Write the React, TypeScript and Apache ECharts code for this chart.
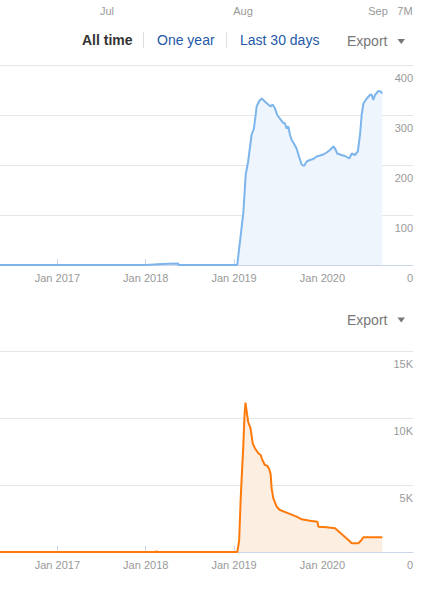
import { useEffect, useRef } from "react";
import * as echarts from "echarts";

const FONT = "'Liberation Sans', Arial, sans-serif";

// labels of the (cut off) navigator above
const navLabels = ["Jul", "Aug", "Sep", "7M"];
const navLabelX = [107, 243, 378, 405];

const rangeButtons = ["All time", "One year", "Last 30 days"];
const exportLabel = "Export";

const xTickDates = ["2017-01-01", "2018-01-01", "2019-01-01", "2020-01-01"];
const xMin = "2016-05-09";
const xMax = "2021-01-09";

const topYMax = 400;
const topYInterval = 100;
const bottomYMax = 15000;
const bottomYInterval = 5000;

const blueDates = [
  "2016-05-09", "2018-01-03", "2018-01-04", "2018-03-07", "2018-03-08", "2018-05-15", "2018-05-16",
  "2019-01-14", "2019-02-08", "2019-02-18", "2019-02-28", "2019-03-14", "2019-03-24", "2019-03-31",
  "2019-04-04", "2019-04-15", "2019-04-25", "2019-05-08", "2019-05-22", "2019-06-01", "2019-06-09",
  "2019-06-19", "2019-06-28", "2019-07-09", "2019-07-21", "2019-07-30", "2019-08-06", "2019-08-13",
  "2019-08-20", "2019-08-27", "2019-09-05", "2019-09-16", "2019-09-26", "2019-10-07", "2019-10-17",
  "2019-10-28", "2019-11-10", "2019-11-24", "2019-12-08", "2019-12-22", "2020-01-04", "2020-01-18",
  "2020-02-01", "2020-02-15", "2020-02-22", "2020-03-02", "2020-03-20", "2020-04-03", "2020-04-21",
  "2020-05-01", "2020-05-14", "2020-05-26", "2020-06-04", "2020-06-11", "2020-06-18", "2020-07-02",
  "2020-07-15", "2020-07-22", "2020-07-29", "2020-08-05", "2020-08-19", "2020-08-29", "2020-09-04",
];
const blueValues = [
  0, 0, 1, 2, 3, 3, 0,
  0, 104, 181, 207, 260, 273, 300,
  317, 328, 333, 327, 321, 317, 321,
  313, 300, 293, 285, 283, 273, 277,
  260, 250, 243, 233, 217, 201, 198,
  207, 210, 212, 217, 219, 221, 225,
  230, 237, 233, 223, 220, 218, 213,
  223, 220, 227, 260, 300, 323, 333,
  340, 341, 330, 340, 348, 347, 343,
];

const orangeDates = [
  "2016-05-09", "2018-02-12", "2018-02-15", "2018-02-18", "2019-01-14", "2019-01-18", "2019-01-22",
  "2019-01-28", "2019-02-01", "2019-02-08", "2019-02-13", "2019-02-17", "2019-02-23", "2019-02-28",
  "2019-03-10", "2019-03-19", "2019-03-28", "2019-04-11", "2019-04-21", "2019-04-25", "2019-05-08",
  "2019-05-18", "2019-05-26", "2019-06-01", "2019-06-05", "2019-06-12", "2019-06-26", "2019-07-09",
  "2019-08-06", "2019-09-16", "2019-10-07", "2019-11-10", "2019-12-11", "2019-12-15", "2020-01-18",
  "2020-02-22", "2020-03-20", "2020-04-17", "2020-05-01", "2020-05-28", "2020-06-07", "2020-06-18",
  "2020-09-04",
];
const orangeValues = [
  0, 0, 60, 0, 0, 400, 900,
  3900, 5400, 7900, 10200, 11150, 10350, 9720,
  9230, 8110, 7740, 7370, 7240, 6990, 6490,
  6440, 6190, 5800, 4750, 4000, 3380, 3130,
  2935, 2640, 2440, 2340, 2264, 1890, 1840,
  1766, 1343, 896, 647, 647, 821, 1097,
  1097,
];

const BLUE = "#7cb5ec";
const BLUE_FILL = "#eef5fc";
const ORANGE = "#ff7a0a";
const ORANGE_FILL = "#fdeee2";

const ts = (d: string) => new Date(d + "T00:00:00").getTime();

export default function App() {
  const ref = useRef<HTMLDivElement>(null);

  useEffect(() => {
    if (!ref.current) return;
    const chart = echarts.init(ref.current, null, { renderer: "svg" });

    const tickValues = xTickDates.map(ts);

    const makeX = (gridIndex: number) => ({
      type: "value" as const,
      gridIndex,
      min: ts(xMin),
      max: ts(xMax),
      splitLine: { show: false },
      axisLine: { show: true, onZero: false, lineStyle: { color: "#ccd6eb", width: 1 } },
      axisTick: {
        show: true,
        inside: true,
        length: 6,
        customValues: tickValues,
        lineStyle: { color: "#ccd6eb" },
      },
      axisLabel: {
        customValues: tickValues,
        color: "#999",
        fontSize: 11,
        fontFamily: FONT,
        margin: 7,
        showMinLabel: true,
        showMaxLabel: true,
        formatter: (v: number) => "Jan " + new Date(v).getFullYear(),
      },
    });

    const makeY = (gridIndex: number, max: number, interval: number, fmt: (v: number) => string) => ({
      type: "value" as const,
      gridIndex,
      position: "right" as const,
      min: 0,
      max,
      interval,
      axisLine: { show: false },
      axisTick: { show: false },
      splitLine: { show: true, lineStyle: { color: "#e6e6e6", width: 1 } },
      axisLabel: {
        inside: true,
        margin: 0,
        color: "#999",
        fontSize: 11,
        fontFamily: FONT,
        verticalAlign: "top" as const,
        padding: [7, 0, 0, 0],
        formatter: fmt,
      },
    });

    const graphics: any[] = [];
    navLabels.forEach((t, i) => {
      graphics.push({
        type: "text",
        x: navLabelX[i],
        y: 10.5,
        style: { text: t, fill: "#999", fontSize: 11, fontFamily: FONT, align: "center", verticalAlign: "middle" },
      });
    });
    const btnX = [82, 157, 240];
    const btnColor = ["#333", "#2459a8", "#2459a8"];
    rangeButtons.forEach((t, i) => {
      graphics.push({
        type: "text",
        x: btnX[i],
        y: 40,
        style: {
          text: t,
          fill: btnColor[i],
          fontSize: 14,
          fontWeight: i === 0 ? "bold" : "normal",
          fontFamily: FONT,
          align: "left",
          verticalAlign: "middle",
        },
      });
    });
    [143.5, 226.5].forEach((x) => {
      graphics.push({
        type: "line",
        shape: { x1: x, y1: 32, x2: x, y2: 48 },
        style: { stroke: "#dddddd", lineWidth: 1 },
      });
    });
    [41, 319.5].forEach((y) => {
      graphics.push({
        type: "text",
        x: 347,
        y,
        style: { text: exportLabel, fill: "#777", fontSize: 14, fontFamily: FONT, align: "left", verticalAlign: "middle" },
      });
      graphics.push({
        type: "polygon",
        shape: { points: [[397.5, y - 2], [405, y - 2], [401.25, y + 3]] },
        style: { fill: "#777" },
      });
    });

    chart.setOption({
      animation: false,
      textStyle: { fontFamily: FONT },
      grid: [
        { left: 0, right: 18, top: 65, height: 200, containLabel: false },
        { left: 0, right: 18, top: 351, height: 201, containLabel: false },
      ],
      xAxis: [makeX(0), makeX(1)],
      yAxis: [
        makeY(0, topYMax, topYInterval, (v) => String(v)),
        makeY(1, bottomYMax, bottomYInterval, (v) => (v === 0 ? "0" : v / 1000 + "K")),
      ],
      series: [
        {
          type: "line",
          xAxisIndex: 0,
          yAxisIndex: 0,
          data: blueDates.map((d, i) => [ts(d), blueValues[i]]),
          showSymbol: false,
          lineStyle: { color: BLUE, width: 2 },
          itemStyle: { color: BLUE },
          areaStyle: { color: BLUE_FILL, opacity: 1 },
        },
        {
          type: "line",
          xAxisIndex: 1,
          yAxisIndex: 1,
          data: orangeDates.map((d, i) => [ts(d), orangeValues[i]]),
          showSymbol: false,
          lineStyle: { color: ORANGE, width: 2 },
          itemStyle: { color: ORANGE },
          areaStyle: { color: ORANGE_FILL, opacity: 1 },
        },
      ],
      graphic: graphics,
    });

    return () => chart.dispose();
  }, []);

  return (
    <div
      ref={ref}
      style={{ position: "absolute", left: 0, top: 0, width: 431, height: 592, background: "#fff" }}
    />
  );
}
